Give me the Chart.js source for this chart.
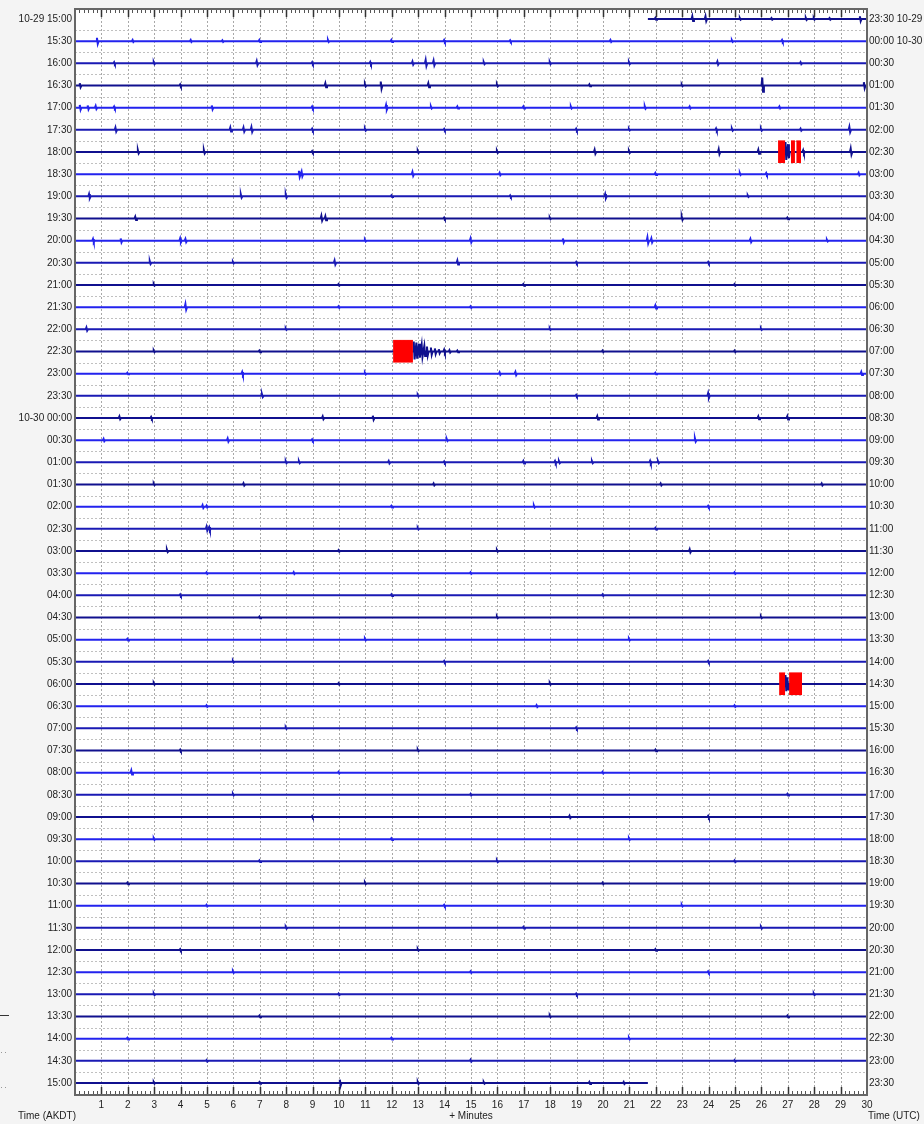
<!DOCTYPE html>
<html>
<head>
<meta charset="utf-8">
<script src="https://cdn.jsdelivr.net/npm/chart.js@4.4.0/dist/chart.umd.min.js"></script>
<style>
  html, body { margin: 0; padding: 0; background: #f4f4f4; }
  #wrap { width: 924px; height: 1124px; }
</style>
</head>
<body>
<div id="wrap"><canvas id="heli" width="924" height="1124"></canvas></div>
<script>
// tick labels (one per trace row)
const leftLabels = ["10-29 15:00","15:30","16:00","16:30","17:00","17:30","18:00","18:30","19:00","19:30",
  "20:00","20:30","21:00","21:30","22:00","22:30","23:00","23:30","10-30 00:00","00:30",
  "01:00","01:30","02:00","02:30","03:00","03:30","04:00","04:30","05:00","05:30",
  "06:00","06:30","07:00","07:30","08:00","08:30","09:00","09:30","10:00","10:30",
  "11:00","11:30","12:00","12:30","13:00","13:30","14:00","14:30","15:00"];
const rightLabels = ["23:30 10-29","00:00 10-30","00:30","01:00","01:30","02:00","02:30","03:00","03:30","04:00",
  "04:30","05:00","05:30","06:00","06:30","07:00","07:30","08:00","08:30","09:00",
  "09:30","10:00","10:30","11:00","11:30","12:00","12:30","13:00","13:30","14:00",
  "14:30","15:00","15:30","16:00","16:30","17:00","17:30","18:00","18:30","19:00",
  "19:30","20:00","20:30","21:00","21:30","22:00","22:30","23:00","23:30"];

// first trace starts late, last trace stops early (minutes)
const firstRowFrom = 21.7;
const lastRowTo = 21.7;

// seismic events per row: [minute, amplitude in row heights]
const rowEvents = [
  [[22.0,0.05],[23.4,0.12],[23.9,0.12],[25.2,0.04],[26.4,0.04],[27.7,0.05],[28.0,0.04],[28.6,0.04],[29.75,0.12]],
  [[0.85,0.15],[2.2,0.05],[4.4,0.05],[5.6,0.04],[7.0,0.05],[9.6,0.05],[12.0,0.05],[14.0,0.05],[16.5,0.04],[20.3,0.05],[24.9,0.04],[26.8,0.05]],
  [[1.5,0.05],[3.0,0.05],[6.9,0.1],[9.0,0.05],[11.2,0.06],[12.8,0.08],[13.3,0.15],[13.6,0.12],[15.5,0.05],[18.0,0.05],[21.0,0.05],[24.35,0.08],[27.5,0.05]],
  [[0.2,0.1],[4.0,0.05],[9.5,0.1],[11.0,0.06],[11.6,0.18],[13.4,0.1],[16.0,0.05],[19.5,0.05],[23.0,0.04],[26.05,0.36],[29.9,0.15]],
  [[0.2,0.12],[0.5,0.1],[0.8,0.08],[1.5,0.05],[5.2,0.1],[9.0,0.05],[11.8,0.12],[13.5,0.05],[14.5,0.05],[17.0,0.05],[18.8,0.05],[21.6,0.06],[23.3,0.05],[26.7,0.05]],
  [[1.55,0.1],[5.9,0.1],[6.4,0.1],[6.7,0.12],[9.0,0.05],[11.0,0.05],[14.0,0.04],[19.0,0.05],[21.0,0.04],[24.3,0.06],[24.9,0.05],[26.0,0.05],[27.5,0.05],[29.35,0.13]],
  [[2.4,0.08],[4.9,0.08],[9.0,0.04],[13.0,0.05],[16.0,0.05],[19.7,0.1],[21.0,0.05],[24.4,0.12],[25.9,0.1],[26.93,0.45],[27.03,0.35],[27.6,0.08],[29.4,0.15]],
  [[8.5,0.15],[8.6,0.12],[12.8,0.1],[16.1,0.06],[22.0,0.05],[25.2,0.05],[26.2,0.05],[29.7,0.06]],
  [[0.55,0.1],[6.3,0.08],[8.0,0.08],[12.0,0.04],[16.5,0.04],[20.1,0.1],[25.5,0.04]],
  [[2.3,0.08],[9.35,0.12],[9.5,0.1],[14.0,0.04],[18.0,0.04],[23.0,0.08],[27.0,0.04]],
  [[0.7,0.08],[1.75,0.1],[4.0,0.1],[4.2,0.08],[11.0,0.04],[15.0,0.1],[18.5,0.1],[21.7,0.15],[21.85,0.1],[25.6,0.08],[28.5,0.04]],
  [[2.85,0.07],[6.0,0.04],[9.85,0.1],[14.5,0.1],[19.0,0.04],[24.0,0.04]],
  [[3.0,0.04],[10.0,0.04],[17.0,0.04],[25.0,0.04]],
  [[4.2,0.14],[10.0,0.04],[15.0,0.04],[22.0,0.08]],
  [[0.45,0.08],[8.0,0.04],[18.0,0.04],[26.0,0.04]],
  [[3.0,0.04],[7.0,0.04],[12.85,0.45],[12.95,0.4],[13.05,0.35],[13.15,0.3],[13.25,0.25],[13.35,0.22],[13.5,0.18],[13.65,0.14],[13.8,0.1],[14.0,0.08],[14.2,0.06],[14.5,0.04],[20.0,0.04],[25.0,0.04]],
  [[2.0,0.04],[6.35,0.08],[11.0,0.04],[16.1,0.06],[16.7,0.08],[22.0,0.04],[29.8,0.08]],
  [[7.1,0.07],[13.0,0.04],[19.0,0.04],[24.0,0.12]],
  [[1.7,0.07],[2.9,0.05],[9.4,0.07],[11.3,0.1],[19.8,0.08],[25.9,0.07],[27.0,0.08]],
  [[1.1,0.06],[5.8,0.08],[9.0,0.04],[14.1,0.05],[23.5,0.08]],
  [[8.0,0.05],[8.5,0.05],[11.9,0.06],[14.0,0.04],[17.0,0.06],[18.2,0.06],[18.35,0.05],[19.6,0.05],[21.8,0.07],[22.1,0.05]],
  [[3.0,0.04],[6.4,0.06],[13.6,0.05],[22.2,0.05],[28.3,0.05]],
  [[4.85,0.07],[5.0,0.05],[12.0,0.04],[17.4,0.05],[24.0,0.04]],
  [[5.0,0.1],[5.1,0.08],[13.0,0.04],[22.0,0.04]],
  [[3.5,0.06],[10.0,0.04],[16.0,0.04],[23.3,0.08]],
  [[5.0,0.04],[8.3,0.05],[15.0,0.04],[25.0,0.04]],
  [[4.0,0.04],[12.0,0.04],[20.0,0.04]],
  [[7.0,0.04],[16.0,0.04],[26.0,0.04]],
  [[2.0,0.04],[11.0,0.04],[21.0,0.04]],
  [[6.0,0.04],[14.0,0.04],[24.0,0.04]],
  [[3.0,0.04],[10.0,0.04],[18.0,0.04],[26.93,0.4],[27.0,0.3]],
  [[5.0,0.04],[17.5,0.05],[25.0,0.04]],
  [[8.0,0.04],[19.0,0.04]],
  [[4.0,0.04],[13.0,0.04],[22.0,0.04]],
  [[2.15,0.1],[10.0,0.04],[20.0,0.04]],
  [[6.0,0.04],[15.0,0.04],[27.0,0.04]],
  [[9.0,0.04],[18.75,0.06],[24.0,0.05]],
  [[3.0,0.04],[12.0,0.04],[21.0,0.04]],
  [[7.0,0.04],[16.0,0.04],[25.0,0.04]],
  [[2.0,0.04],[11.0,0.04],[20.0,0.04]],
  [[5.0,0.04],[14.0,0.04],[23.0,0.04]],
  [[8.0,0.04],[17.0,0.04],[26.0,0.04]],
  [[4.0,0.04],[13.0,0.04],[22.0,0.04]],
  [[6.0,0.04],[15.0,0.04],[24.0,0.04]],
  [[3.0,0.04],[10.0,0.04],[19.0,0.04],[28.0,0.04]],
  [[7.0,0.04],[18.0,0.04],[27.0,0.04]],
  [[2.0,0.04],[12.0,0.04],[21.0,0.04]],
  [[5.0,0.04],[15.0,0.05],[25.0,0.04]],
  [[3.0,0.04],[7.0,0.04],[10.05,0.15],[13.0,0.05],[15.5,0.04],[19.5,0.05],[20.8,0.05]]
];

// clipped (red) stretches
const clipRow  = [6, 6, 6, 15, 30, 30];
const clipFrom = [26.63, 27.12, 27.32, 12.05, 26.67, 27.05];
const clipTo   = [26.9, 27.27, 27.5, 12.8, 26.9, 27.54];

const traceColors = ["#10108e", "#2323ee", "#1a1ab4"];
const FONT = "'Liberation Sans', Arial, sans-serif";

function traceData(r) {
  let from = r === 0 ? firstRowFrom : 0;
  let to = r === leftLabels.length - 1 ? lastRowTo : 30;
  let pts = [{x: from, y: r}];
  rowEvents[r].slice().sort((a, b) => a[0] - b[0]).forEach(e => {
    pts.push({x: e[0] - 0.045, y: r});
    pts.push({x: e[0] - 0.018, y: r - e[1]});
    pts.push({x: e[0] + 0.012, y: r + e[1] * 0.8});
    pts.push({x: e[0] + 0.045, y: r});
  });
  pts.push({x: to, y: r});
  return pts;
}

let datasets = [];
clipRow.forEach((r, i) => {
  datasets.push({
    data: [{x: clipFrom[i], y: r - 0.5}, {x: clipTo[i], y: r - 0.5}],
    fill: {value: r + 0.5},
    backgroundColor: "#ff0000",
    borderColor: "#ff0000",
    borderWidth: 1,
    pointRadius: 0,
    order: 0,
  });
});
leftLabels.forEach((l, r) => {
  datasets.push({
    data: traceData(r),
    borderColor: traceColors[r % 3],
    borderWidth: 2,
    pointRadius: 0,
    fill: false,
    tension: 0,
    order: 1,
  });
});

const heliPlugin = {
  id: "heli",
  beforeDraw(chart) {
    const {ctx, chartArea: a} = chart;
    ctx.save();
    ctx.fillStyle = "#f4f4f4";
    ctx.fillRect(0, 0, chart.width, chart.height);
    ctx.fillStyle = "#ffffff";
    ctx.fillRect(a.left, a.top, a.right - a.left, a.bottom - a.top);
    ctx.restore();
  },
  beforeDatasetsDraw(chart) {
    const {ctx, chartArea: a} = chart;
    const x = chart.scales.x, y = chart.scales.y;
    ctx.save();
    ctx.lineWidth = 1;
    ctx.setLineDash([2, 2]);
    ctx.strokeStyle = "#a8a8a8";
    for (let m = 1; m < 30; m++) {
      const px = Math.round(x.getPixelForValue(m)) + 0.5;
      ctx.beginPath(); ctx.moveTo(px, a.top); ctx.lineTo(px, a.bottom); ctx.stroke();
    }
    ctx.strokeStyle = "#c0c0c0";
    for (let r = 0; r < leftLabels.length - 1; r++) {
      const py = Math.round(y.getPixelForValue(r + 0.5)) + 0.5;
      ctx.beginPath(); ctx.moveTo(a.left, py); ctx.lineTo(a.right, py); ctx.stroke();
    }
    ctx.restore();
  },
  afterDatasetsDraw(chart) {
    const {ctx, chartArea: a} = chart;
    const x = chart.scales.x;
    ctx.save();
    // ticks every 10 s, top and bottom, pointing inwards
    for (let k = 1; k < 180; k++) {
      const major = k % 6 === 0;
      const len = major ? 8 : 4;
      const px = Math.round(x.getPixelForValue(k / 6)) + 0.5;
      ctx.strokeStyle = major ? "#333" : "#555";
      ctx.lineWidth = major ? 1.5 : 1;
      ctx.beginPath();
      ctx.moveTo(px, a.top); ctx.lineTo(px, a.top + len);
      ctx.moveTo(px, a.bottom); ctx.lineTo(px, a.bottom - len);
      ctx.stroke();
    }
    ctx.strokeStyle = "#666";
    ctx.lineWidth = 2;
    ctx.strokeRect(a.left, a.top, a.right - a.left, a.bottom - a.top);
    // axis captions
    ctx.fillStyle = "#222";
    ctx.font = "10px " + FONT;
    ctx.textBaseline = "middle";
    ctx.textAlign = "left";
    ctx.fillText("Time (AKDT)", 18, 1116);
    ctx.fillText("Time (UTC)", 868, 1116);
    // stray marks on the left edge
    ctx.fillStyle = "#333";
    ctx.fillRect(0, 1015, 9, 1);
    ctx.fillStyle = "#999";
    [1052, 1087].forEach(yy => { ctx.fillRect(1, yy, 1, 1); ctx.fillRect(5, yy, 1, 1); });
    ctx.restore();
  }
};

new Chart(document.getElementById("heli"), {
  type: "line",
  data: { datasets: datasets },
  plugins: [heliPlugin],
  options: {
    responsive: false,
    animation: false,
    layout: { padding: { top: 8, left: 0, right: 0, bottom: 0 } },
    plugins: { legend: { display: false }, tooltip: { enabled: false } },
    scales: {
      x: {
        type: "linear", position: "bottom", min: 0, max: 30,
        afterFit: s => { s.height = 29; },
        grid: { display: false, drawTicks: false },
        border: { display: false },
        ticks: {
          stepSize: 1, padding: 4, autoSkip: false, maxRotation: 0,
          color: "#222", font: { size: 10, family: FONT },
          callback: v => (v === 0 ? "" : v),
        },
        title: { display: true, text: "+ Minutes", color: "#222", font: { size: 10, family: FONT }, padding: { top: 0, bottom: 2 } },
      },
      y: {
        type: "linear", position: "left", reverse: true, min: -0.45, max: 48.54,
        afterFit: s => { s.width = 75; },
        afterBuildTicks: s => { s.ticks = leftLabels.map((l, i) => ({ value: i })); },
        grid: { display: false, drawTicks: false },
        border: { display: false },
        ticks: { padding: 3, autoSkip: false, color: "#222", font: { size: 10, family: FONT }, callback: (v, i) => leftLabels[i] },
      },
      y2: {
        type: "linear", position: "right", reverse: true, min: -0.45, max: 48.54,
        afterFit: s => { s.width = 57; },
        afterBuildTicks: s => { s.ticks = rightLabels.map((l, i) => ({ value: i })); },
        grid: { display: false, drawTicks: false },
        border: { display: false },
        ticks: { padding: 2, autoSkip: false, color: "#222", font: { size: 10, family: FONT }, callback: (v, i) => rightLabels[i] },
      },
    },
  },
});
</script>
</body>
</html>
